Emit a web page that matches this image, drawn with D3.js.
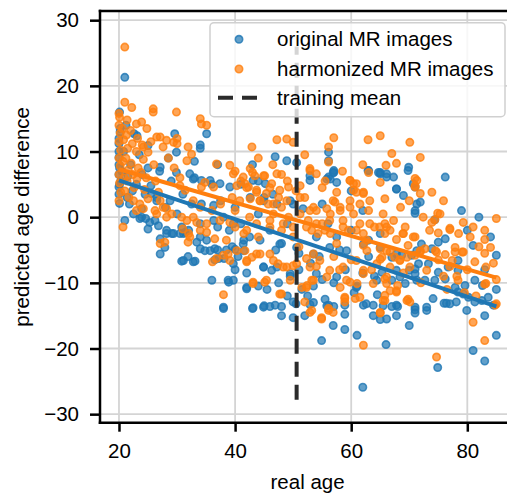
<!DOCTYPE html>
<html>
<head>
<meta charset="utf-8">
<script src="https://cdn.jsdelivr.net/npm/d3@7"></script>
<style>
  body { margin: 0; background: #fff; }
  svg { display: block; overflow: hidden; }
  text { font-family: "Liberation Sans", Arial, sans-serif; }
</style>
</head>
<body>
<svg width="507" height="493"></svg>
<script>
// points: [real age, predicted age difference]
var originalPoints = [
  [21.0,21.3],[20.1,16.0],[22.6,12.7],[23.1,12.4],[20.0,11.2],[20.0,9.1],[20.0,4.6],[20.1,2.1],[21.0,-0.5],[24.6,-0.2],
  [21.4,3.0],[23.9,1.3],[20.5,7.0],[20.3,5.5],[21.5,6.2],[22.0,8.0],[20.8,10.0],[22.3,4.0],[23.0,5.0],[21.8,2.0],
  [24.0,6.5],[24.5,3.5],[22.5,0.5],[20.2,13.0],[21.2,14.0],[23.5,9.5],[25.0,7.5],[25.5,4.8],[25.3,-0.8],[23.9,0.0],
  [20.0,10.0],[20.0,8.0],[20.0,6.5],[20.1,5.0],[20.0,12.0],[20.2,13.5],[20.0,3.5],[20.1,7.5],
  [26.8,-1.3],[25.0,-1.8],[27.1,-3.3],[29.1,-2.5],[28.2,-2.5],[27.1,-5.6],[27.9,-4.6],[31.1,-6.6],[31.9,-6.0],[33.1,-6.7],
  [30.5,-2.5],[31.4,-2.3],[30.8,-1.5],[34.0,-4.8],[34.8,-5.1],[35.7,-5.1],[36.5,-4.8],[36.0,-9.6],[38.0,-13.7],[38.8,-9.6],
  [34.0,-3.0],[35.1,-3.5],[33.4,-3.8],[29.6,12.7],[35.1,12.7],[34.0,11.0],[34.0,10.5],[25.0,10.9],[29.9,9.9],[27.1,7.6],
  [29.9,6.8],[32.2,6.6],[32.8,5.8],[34.2,5.6],[35.7,5.6],[37.4,5.1],[39.1,4.6],[25.6,3.6],[26.5,2.5],[28.8,2.5],
  [34.2,2.0],[36.3,1.8],[23.6,-0.2],[26.2,-0.5],[28.2,-2.0],[29.4,-2.5],[31.1,-2.5],[34.0,-1.0],[36.3,-0.5],[39.7,-1.0],
  [30.8,-6.7],[32.8,-6.8],[37.0,-5.0],[38.5,-5.0],[40.0,-4.9],[41.5,-5.1],[37.2,-6.3],[38.1,-6.3],[39.7,-7.1],[38.9,-9.9],
  [38.0,-13.9],[42.0,-10.9],[43.0,-13.9],[28.5,9.0],[27.0,7.0],[29.0,5.5],[31.0,3.5],[32.5,2.0],[30.0,0.5],[28.0,1.5],
  [26.5,3.0],[33.0,6.0],[36.0,5.0],[37.5,2.5],[38.0,0.0],[39.0,-2.0],[40.0,1.5],[41.0,-1.0],[37.0,-1.5],[39.5,-4.5],
  [40.5,-6.0],[41.5,-3.5],[43.1,-13.8],[44.9,-13.7],[46.0,-13.6],[48.0,-13.6],[48.0,-15.0],[50.0,-15.3],[52.0,-15.0],[50.0,-12.9],
  [52.9,-13.3],[44.9,-7.6],[46.3,-8.1],[47.2,-7.6],[46.9,9.2],[48.9,8.6],[50.6,8.3],[57.0,7.1],[52.9,5.6],[56.4,5.8],
  [57.5,5.3],[52.9,6.3],[56.1,8.6],[57.0,6.8],[56.1,6.1],[43.1,5.6],[45.2,5.1],[43.0,8.0],[45.0,3.0],[44.0,0.5],
  [46.0,-2.0],[48.0,-4.0],[49.0,-1.0],[50.0,2.0],[51.0,-5.5],[49.5,-9.0],[51.5,-11.0],[53.0,-7.0],[54.0,-3.0],[55.0,-9.5],
  [54.9,-18.8],[56.9,-16.5],[58.9,-14.8],[58.9,-17.1],[61.0,-18.0],[62.0,-25.9],[63.8,-15.0],[65.0,-15.6],[66.1,-15.5],[67.8,-15.0],
  [66.0,-19.4],[70.0,-16.5],[71.0,-14.1],[71.0,-14.6],[73.0,-14.2],[74.9,-22.9],[76.0,-13.1],[77.0,-13.2],[79.9,-14.2],[81.0,-20.3],
  [83.0,-15.0],[83.0,-21.9],[85.0,-18.0],[67.0,-13.6],[68.0,-13.6],[56.1,-13.4],[58.9,-13.4],[62.1,-13.4],[63.8,-13.4],[58.0,-5.0],
  [59.0,-8.0],[60.0,-2.0],[61.0,-10.5],[62.0,1.0],[63.0,-6.0],[64.0,-9.0],[56.0,-1.0],[57.0,-10.0],[60.0,4.0],[55.0,2.0],
  [63.0,7.1],[64.7,6.8],[66.1,6.6],[67.3,6.1],[69.9,7.6],[71.0,4.6],[71.3,2.0],[65.0,6.8],[69.8,7.1],[76.2,6.1],
  [67.8,4.3],[71.9,2.3],[71.0,1.0],[71.0,0.6],[74.4,-0.4],[65.3,-8.4],[67.0,-9.6],[69.3,-10.1],[71.0,-8.6],[72.7,-9.6],
  [74.4,-9.6],[75.0,-8.4],[76.2,-9.4],[76.7,-7.6],[77.9,-10.7],[78.4,-11.4],[79.6,-10.4],[79.3,-11.7],[80.2,-12.2],[81.3,-12.9],
  [83.6,-12.2],[82.5,-12.7],[84.5,-13.4],[67.8,-8.1],[70.0,-8.1],[71.6,-7.1],[73.3,-7.1],[74.1,-12.4],[76.4,-13.1],[78.1,-12.9],
  [67.8,-13.4],[71.0,-13.7],[73.0,-13.7],[82.6,-10.4],[81.3,-9.6],[78.4,-8.1],[78.4,-6.6],[85.0,-5.8],[81.0,-4.3],[76.2,-3.3],
  [75.0,-3.8],[73.9,-4.8],[72.1,-4.1],[71.3,-5.1],[70.4,-5.8],[68.7,-5.8],[67.0,-6.1],[71.0,-7.9],[80.0,-2.0],[83.0,-8.0],
  [84.0,-3.0],[85.0,-11.0],[79.0,1.0],[82.0,0.0],[65.0,-2.5],[63.0,-3.5],[62.0,-8.5],[60.5,-11.5],[64.5,-11.8],[57.5,-3.0],
  [53.5,-10.5],[45.5,-11.0],[47.0,-5.0],[42.5,-3.0],[40.0,-8.0],[36.5,-6.5],[32.0,-2.0],[33.0,8.5],[37.0,8.0],[41.0,5.0],
  [44.0,5.5],[46.5,3.5],[42.0,-8.5],[44.0,-10.5],[47.5,-10.0],[49.0,-12.0],[51.0,-8.0],[52.5,-12.0],[54.5,-6.0],[55.5,-12.5],
  [55.8,5.8],[56.9,6.8],[56.1,9.9],[62.9,7.1],[65.0,6.6],[66.1,6.1],[67.8,4.3],[69.0,3.3],[70.7,5.1],
  [42.6,3.0],[44.9,2.5],[47.2,2.0],[49.5,2.5],[51.7,1.3],
  [41.4,-4.1],[44.3,-3.5],[47.7,-4.1],[50.6,-4.6],[53.5,-5.6],[56.3,-4.6],[59.2,-5.1],[62.1,-4.1],[65.0,-4.6],[67.8,-5.6],
  [39.7,-9.6],[42.0,-10.7],[44.9,-7.6],[49.5,-8.6],[54.0,-8.6],[57.5,-9.1],[60.9,-10.7],[64.4,-9.6],[68.4,-9.1],[71.3,-9.6],
  [45.0,-13.5],[46.9,-13.4],[50.5,-13.2],[53.5,-13.0],[55.8,-13.5],[57.0,-13.6],[62.6,-13.2],[65.5,-13.5]
];

var harmonizedPoints = [
  [20.0,15.8],[20.1,15.2],[20.0,14.0],[20.2,12.8],[20.0,11.5],[20.3,10.2],[20.0,9.0],[20.2,7.8],[20.0,6.5],[20.1,5.2],
  [20.3,3.8],[20.0,2.5],[20.7,-1.5],[20.6,13.5],[20.8,11.8],[20.7,8.5],[20.9,6.0],[21.0,4.0],[21.0,17.5],[21.4,14.8],
  [21.3,12.5],[21.5,10.5],[21.2,9.0],[21.6,7.2],[21.4,5.5],[21.7,3.0],[22.2,16.7],[22.0,13.2],[22.3,11.2],[22.1,8.2],
  [22.4,6.5],[22.6,4.5],[22.5,2.5],[23.0,14.2],[23.2,12.0],[23.0,10.0],[23.3,7.5],[23.1,5.8],[23.0,1.0],[23.6,2.0],
  [23.9,14.5],[24.0,11.0],[24.2,8.8],[23.8,6.8],[24.4,4.2],[24.8,13.5],[24.2,10.7],[25.0,9.9],[24.7,6.0],[25.0,2.8],
  [25.5,11.5],[25.9,16.5],[25.9,16.0],[26.5,12.2],[27.1,12.2],[26.0,8.0],[26.3,5.5],[26.8,3.8],[27.1,2.5],[27.6,1.5],
  [26.5,0.5],[28.2,0.0],[29.1,0.5],[21.0,25.9],[29.9,16.0],[34.0,15.0],[34.2,14.2],[35.1,14.0],[28.2,11.7],[29.4,11.4],
  [27.6,10.7],[31.9,10.7],[32.5,9.6],[31.7,8.6],[30.0,12.0],[30.0,11.2],[28.5,9.0],[29.5,7.5],[30.5,6.0],[42.9,10.7],
  [36.8,8.1],[39.1,7.9],[40.0,7.0],[41.0,5.5],[42.0,4.5],[43.0,6.8],[34.8,5.3],[34.2,4.6],[36.3,4.6],[30.5,4.8],
  [31.4,4.1],[32.8,2.5],[34.0,1.5],[31.7,-0.5],[33.4,-0.8],[35.1,-1.0],[37.4,-0.5],[39.1,-0.8],[31.0,-1.8],[32.0,-2.5],
  [34.0,-2.0],[24.2,1.3],[26.2,1.0],[28.2,1.3],[30.8,0.0],[32.8,0.0],[35.1,-2.3],[36.5,-3.3],[38.5,-3.5],[27.1,-4.0],
  [27.9,-3.8],[31.9,-3.8],[32.2,-3.0],[36.1,-6.8],[36.8,-6.3],[38.0,-5.8],[38.8,-5.6],[39.1,-6.6],[38.0,-11.8],[43.1,-9.9],
  [42.0,-6.8],[42.9,-6.1],[43.7,-5.6],[41.7,-5.1],[47.2,11.8],[48.9,11.9],[50.0,11.4],[56.1,10.7],[57.0,12.1],[62.9,11.8],
  [65.0,12.4],[70.1,11.4],[67.0,9.7],[71.9,9.1],[66.0,7.9],[67.8,8.2],[52.9,7.4],[54.0,6.6],[56.1,8.4],[44.0,9.0],
  [43.4,6.3],[45.1,6.3],[41.7,5.1],[43.7,4.1],[46.0,4.5],[47.5,3.0],[49.0,5.5],[50.5,4.0],[52.0,3.0],[53.5,1.5],
  [55.0,4.5],[57.5,3.8],[59.8,5.6],[60.9,5.1],[60.4,4.1],[62.1,3.6],[59.8,2.5],[61.5,2.0],[63.2,2.5],[71.3,5.6],
  [71.0,4.6],[71.9,3.6],[73.9,3.8],[75.9,2.5],[75.3,0.5],[72.4,0.0],[73.9,-0.8],[77.0,-1.7],[79.3,-0.8],[81.0,-1.5],
  [83.0,-2.0],[85.0,-0.2],[65.5,0.5],[66.1,-1.5],[67.3,-0.5],[69.3,-1.5],[56.9,2.5],[58.1,1.5],[56.4,0.5],[58.6,-0.5],
  [60.4,0.5],[61.5,-1.0],[59.5,-2.0],[62.1,-2.5],[62.7,-3.5],[51.2,0.5],[52.6,-0.5],[53.2,-2.0],[54.3,-2.5],[55.5,-2.0],
  [56.4,-2.5],[44.3,2.5],[45.7,2.0],[46.6,0.5],[48.0,1.5],[49.2,0.0],[65.0,5.3],[65.8,2.8],[71.0,5.9],[71.0,4.8],
  [74.9,0.6],[74.4,-0.4],[77.0,-1.9],[75.0,-2.4],[83.0,-3.4],[84.0,-4.6],[83.0,-5.5],[81.3,-6.8],[77.9,-4.6],[77.9,-5.3],
  [79.3,-5.3],[76.2,-5.7],[74.7,-5.3],[72.7,-4.8],[71.9,-5.3],[69.8,-4.3],[71.0,-5.8],[69.6,-6.1],[68.9,-2.5],[71.0,-3.0],
  [65.8,-1.0],[65.8,-2.5],[67.8,-3.4],[65.0,-4.8],[65.0,-6.4],[66.7,-5.3],[67.5,-6.1],[68.4,-6.5],[73.0,-8.1],[75.9,-9.0],
  [65.8,-9.4],[68.0,-10.4],[67.8,-11.4],[65.8,-11.9],[65.8,-12.7],[69.8,-12.5],[78.2,-9.0],[78.4,-9.6],[83.0,-10.2],[84.8,-13.4],
  [46.0,-5.6],[47.4,-7.1],[48.9,-7.6],[50.0,-7.4],[52.3,-6.3],[53.5,-5.6],[45.1,-9.9],[48.0,-11.7],[53.2,-14.2],[54.9,-15.5],
  [56.1,-14.2],[56.9,-14.5],[58.9,-12.4],[58.9,-12.9],[62.1,-19.5],[61.0,-10.1],[59.8,-9.9],[65.0,-14.5],[62.1,-4.3],[62.7,-5.1],
  [65.3,-6.1],[66.1,-5.1],[66.1,-10.1],[66.7,-11.2],[70.1,-12.9],[74.7,-21.3],[74.5,-5.1],[77.4,-6.6],[79.1,-5.3],[83.2,-7.6],
  [83.2,-10.1],[81.0,-16.0],[83.0,-18.8],[85.0,-13.2],[51.5,-10.7],[52.4,-10.4],[53.2,-9.6],[60.7,-12.4],[61.5,-12.2],[52.9,-14.5],
  [54.9,-15.3],[56.1,-13.9],[65.0,-14.6],[50.0,-3.0],[48.0,-2.0],[51.0,-4.5],[54.0,-7.5],[57.0,-6.0],[58.0,-8.0],[60.0,-6.5],
  [63.5,-8.0],[55.0,-1.0],[57.5,-4.0],[44.0,-3.0],[46.0,-1.5],[40.0,1.0],[41.5,-2.5],[42.5,0.0],[39.5,3.0],[37.5,2.0],
  [36.0,1.0],[63.0,1.0],[64.0,-1.5],[68.5,1.5],[70.0,2.5],[69.0,-8.5],[72.0,-10.0],[76.5,-11.0],[80.0,-8.0],[82.0,-4.5],
  [80.5,-3.0],[78.5,-2.5],[84.5,-7.0],[85.0,-9.5],[81.5,-12.0],[79.5,-11.5],[77.0,-7.5],[75.0,-6.5],[73.5,-2.0],[63.0,6.8],
  [62.0,8.0],[58.5,7.0],[55.5,5.5],[52.0,9.5],[48.0,6.5],[46.5,8.0],
  [39.7,6.6],[41.4,6.1],[42.6,7.4],[44.9,6.3],[47.2,6.6],[46.3,5.1],
  [40.3,4.8],[42.3,4.6],[43.7,3.8],[45.4,3.6],[47.7,4.1],[49.2,4.6],[51.2,4.8],[52.9,7.1],
  [40.8,2.5],[42.6,2.8],[44.3,2.5],[46.6,2.0],[48.9,2.5],[51.2,3.0],[52.9,1.0],[54.0,1.0],[55.8,1.3],[57.2,2.3],
  [58.1,1.0],[59.8,1.5],[60.9,3.8],[62.1,3.8],[59.8,5.6],[60.4,5.1],
  [40.0,-1.5],[42.0,-2.0],[43.7,-1.0],[46.0,-0.5],[48.3,-1.0],[50.0,-1.5],[52.3,-1.5],[54.0,-1.0],[56.3,-0.5],[58.6,-1.5],
  [60.9,-2.0],[63.2,-1.0],[64.9,-1.5],[66.7,-2.0],[69.0,-2.5],[70.7,-3.0],[71.9,-5.1],
  [40.3,-5.1],[42.0,-6.6],[44.3,-5.6],[46.6,-6.6],[48.3,-7.6],[50.6,-7.1],[52.9,-7.6],[54.6,-6.6],[56.3,-8.1],[58.6,-7.6],
  [60.9,-6.6],[62.1,-8.1],[64.4,-7.1],[66.7,-7.6],[68.4,-6.6],[70.1,-7.6],
  [43.1,-10.1],[45.4,-9.6],[47.7,-11.7],[49.5,-9.6],[52.3,-10.7],[53.5,-9.6],[55.8,-9.1],[58.1,-10.7],[59.2,-9.6],[62.1,-8.6],
  [63.8,-10.1],[66.1,-9.1],[67.8,-11.2],[69.6,-12.7],[52.0,-12.9],[58.9,-12.2],[65.5,-12.7]
];

// regression fits, read at both ends
var fitAges = [20, 85];
var originalFit = [5.6, -13.6];
var harmonizedFit = [7.3, -9.2];

var trainingMean = 50.6;
var trainingMeanSpan = [-27.8, 26];

var xTicks = [20, 40, 60, 80];
var yTicks = [-30, -20, -10, 0, 10, 20, 30];
var legendLabels = ['original MR images', 'harmonized MR images', 'training mean'];

var blue = '#1f77b4';
var orange = '#ff7f0e';
var fontSize = 20.5;
var dotRadius = 3.7;

var plotLeft = 100, plotRight = 515.2, plotTop = 11, plotBottom = 422.7;

var x = d3.scaleLinear().domain([16.73, 88.25]).range([plotLeft, plotRight]);
var y = d3.scaleLinear().domain([-31.3, 31.4]).range([plotBottom, plotTop]);

var svg = d3.select('svg');

// grid
var grid = svg.append('g').attr('stroke', '#d4d4d4').attr('stroke-width', 1.8);
grid.selectAll('.gx').data(xTicks).enter().append('line')
  .attr('x1', function(d) { return x(d); }).attr('x2', function(d) { return x(d); })
  .attr('y1', plotTop).attr('y2', plotBottom);
grid.selectAll('.gy').data(yTicks).enter().append('line')
  .attr('x1', plotLeft).attr('x2', plotRight)
  .attr('y1', function(d) { return y(d); }).attr('y2', function(d) { return y(d); });

var styleDot = function(sel, color) {
  sel.attr('r', dotRadius)
    .attr('fill', color)
    .attr('fill-opacity', 0.7)
    .attr('stroke', color)
    .attr('stroke-opacity', 0.8)
    .attr('stroke-width', 1.6);
};

var drawPoints = function(data, color) {
  svg.append('g').selectAll('circle').data(data).enter()
    .append('circle')
    .attr('cx', function(d) { return x(d[0]); })
    .attr('cy', function(d) { return y(d[1]); })
    .call(styleDot, color);
};
drawPoints(originalPoints, blue);
drawPoints(harmonizedPoints, orange);

var line = d3.line()
  .x(function(d) { return x(d[0]); })
  .y(function(d) { return y(d[1]); });

var drawFit = function(values, color) {
  svg.append('path')
    .datum(fitAges.map(function(a, i) { return [a, values[i]]; }))
    .attr('d', line)
    .attr('fill', 'none')
    .attr('stroke', color)
    .attr('stroke-width', 4);
};
drawFit(originalFit, blue);
drawFit(harmonizedFit, orange);

svg.append('line')
  .attr('x1', x(trainingMean)).attr('x2', x(trainingMean))
  .attr('y1', y(trainingMeanSpan[0])).attr('y2', y(trainingMeanSpan[1]))
  .attr('stroke', '#2b2b2b')
  .attr('stroke-width', 4)
  .attr('stroke-dasharray', '15,8');

// axes
var axisLeft = d3.axisLeft(y).tickValues(yTicks).tickSize(10).tickPadding(11)
  .tickFormat(function(d) { return d < 0 ? '\u2212' + Math.abs(d) : d; });
var gy = svg.append('g').attr('transform', 'translate(' + plotLeft + ',0)').call(axisLeft);

var axisBottom = d3.axisBottom(x).tickValues(xTicks).tickSize(9).tickPadding(12);
var gx = svg.append('g').attr('transform', 'translate(0,' + plotBottom + ')').call(axisBottom);

[gx, gy].forEach(function(g) {
  g.select('.domain').remove();
  g.selectAll('line').attr('stroke', '#000').attr('stroke-width', 2.5);
  g.selectAll('text').attr('font-size', fontSize).attr('fill', '#000')
    .style('font-family', '"Liberation Sans", Arial, sans-serif');
});

// spines
var spines = svg.append('g').attr('stroke', '#000').attr('stroke-width', 2.5).attr('stroke-linecap', 'square');
spines.append('line').attr('x1', plotLeft).attr('x2', plotLeft).attr('y1', plotTop).attr('y2', plotBottom);
spines.append('line').attr('x1', plotLeft).attr('x2', plotRight).attr('y1', plotTop).attr('y2', plotTop);
spines.append('line').attr('x1', plotLeft).attr('x2', plotRight).attr('y1', plotBottom).attr('y2', plotBottom);
spines.append('line').attr('x1', plotRight).attr('x2', plotRight).attr('y1', plotTop).attr('y2', plotBottom);

svg.append('text')
  .attr('x', (plotLeft + plotRight) / 2)
  .attr('y', 489)
  .attr('text-anchor', 'middle')
  .attr('font-size', fontSize)
  .text('real age');

svg.append('text')
  .attr('transform', 'translate(29,' + ((plotTop + plotBottom) / 2) + ') rotate(-90)')
  .attr('text-anchor', 'middle')
  .attr('font-size', fontSize)
  .text('predicted age difference');

// legend
var legend = svg.append('g');
legend.append('rect')
  .attr('x', 210).attr('y', 22.7)
  .attr('width', 295).attr('height', 94)
  .attr('rx', 4)
  .attr('fill', '#fff').attr('fill-opacity', 0.8)
  .attr('stroke', '#d0d0d0').attr('stroke-width', 1.5);

var rowY = [39.3, 69, 97.7];
legend.selectAll('circle').data([blue, orange]).enter()
  .append('circle')
  .attr('cx', 239)
  .attr('cy', function(d, i) { return rowY[i]; })
  .each(function(d) { d3.select(this).call(styleDot, d); });

legend.append('line')
  .attr('x1', 218).attr('x2', 258)
  .attr('y1', rowY[2]).attr('y2', rowY[2])
  .attr('stroke', '#2b2b2b')
  .attr('stroke-width', 4)
  .attr('stroke-dasharray', '15,9');

legend.selectAll('text').data(legendLabels).enter()
  .append('text')
  .attr('x', 277)
  .attr('y', function(d, i) { return rowY[i] + 7; })
  .attr('font-size', fontSize)
  .text(function(d) { return d; });
</script>
</body>
</html>
